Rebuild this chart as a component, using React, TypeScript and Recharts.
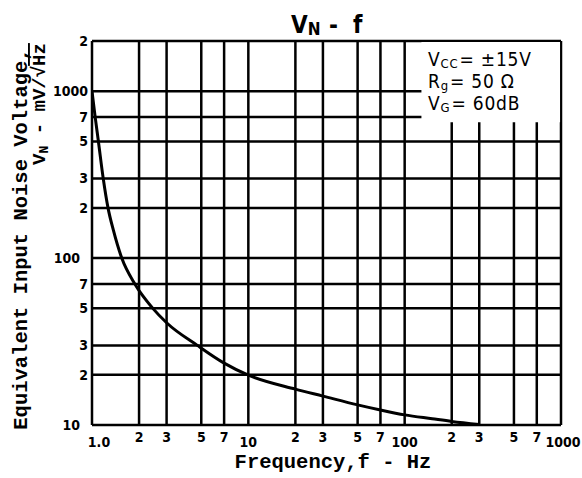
import React from "react";
import { LineChart, Line, XAxis, YAxis, CartesianGrid, ReferenceArea } from "recharts";

// noise curve (Hz, nV/√Hz)
const freqs = [1.0, 1.048, 1.099, 1.18, 1.266, 1.37, 1.55, 1.88, 2.45, 3, 4.72, 7, 10, 20, 30, 50, 70, 100, 150, 200, 300];
const noise = [1000, 700, 500, 300, 200, 147, 100, 70, 50, 41, 30, 23.5, 19.9, 16.4, 14.9, 13.2, 12.3, 11.5, 10.9, 10.5, 10.07];

const xTicks = [1, 2, 3, 5, 7, 10, 20, 30, 50, 70, 100, 200, 300, 500, 700, 1000];
const xTickText = ["1.0", "2", "3", "5", "7", "10", "2", "3", "5", "7", "100", "2", "3", "5", "7", "1000"];
const yTicks = [10, 20, 30, 50, 70, 100, 200, 300, 500, 700, 1000, 2000];
const yTickText = ["10", "2", "3", "5", "7", "100", "2", "3", "5", "7", "1000", "2"];

const data = freqs.map((f, i) => ({ f, v: noise[i] }));

const NARROW = "'Liberation Sans Narrow', 'DejaVu Sans Condensed', 'Liberation Sans', sans-serif";
const MONO = "'Liberation Mono', 'DejaVu Sans Mono', monospace";

const XTick = (props: any) => {
  const { x, y, payload } = props;
  const i = xTicks.indexOf(payload.value);
  const label = xTickText[i] ?? "";
  const decade = label.length > 1;
  let dx = 0;
  if (label === "1.0") dx = 7;
  if (label === "1000") dx = 2;
  return (
    <text x={x + dx} y={y + (decade ? 14 : 9)} textAnchor="middle" fontFamily={NARROW} fontWeight={700} fontSize={14} fill="#000">
      {label}
    </text>
  );
};

const YTick = (props: any) => {
  const { x, y, payload } = props;
  const i = yTicks.indexOf(payload.value);
  const label = yTickText[i] ?? "";
  const shift = label === "10" || label === "100" ? -4 : 4;
  return (
    <text x={x + shift} y={y + 5} textAnchor="end" fontFamily={NARROW} fontWeight={700} fontSize={14} fill="#000">
      {label}
    </text>
  );
};

export default function App() {
  return (
    <div style={{ position: "absolute", left: 0, top: 0, width: 582, height: 478, background: "#fff" }}>
      <LineChart width={582} height={478} data={data} margin={{ top: 41, right: 21, bottom: 0, left: 0 }}>
        <CartesianGrid stroke="#000" strokeWidth={2.5} />
        <XAxis
          dataKey="f"
          type="number"
          scale="log"
          domain={[1, 1000]}
          ticks={xTicks}
          allowDataOverflow
          axisLine={false}
          tickLine={false}
          height={53}
          tick={<XTick />}
          interval={0}
        />
        <YAxis
          type="number"
          scale="log"
          domain={[10, 2000]}
          ticks={yTicks}
          allowDataOverflow
          axisLine={false}
          tickLine={false}
          width={92}
          tick={<YTick />}
          interval={0}
        />
        {/* blank box behind the conditions text */}
        <ReferenceArea x1={128} x2={986} y1={652} y2={1970} fill="#fff" fillOpacity={1} stroke="none" />
        <Line dataKey="v" type="monotone" stroke="#000" strokeWidth={3} dot={false} isAnimationActive={false} />
      </LineChart>
      <svg width={582} height={478} style={{ position: "absolute", left: 0, top: 0, pointerEvents: "none" }}>
        <text y={33} fontFamily={NARROW} fontWeight={700} fontSize={24}>
          <tspan x={291}>V</tspan>
          <tspan fontSize={17} dy={2}>N</tspan>
          <tspan x={329} dy={-2}>-</tspan>
          <tspan x={353}>f</tspan>
        </text>
        <g fontFamily={NARROW} fontSize={19} letterSpacing={0.8}>
          <text x={428} y={66}>
            V<tspan fontSize={13} dy={2}>CC</tspan>
            <tspan dy={-2} dx={1}>= ±15V</tspan>
          </text>
          <text x={428} y={88}>
            R<tspan fontSize={13} dy={2}>g</tspan>
            <tspan dy={-2} dx={1}>= 50 Ω</tspan>
          </text>
          <text x={428} y={110}>
            V<tspan fontSize={13} dy={2}>G</tspan>
            <tspan dy={-2} dx={1}>= 60dB</tspan>
          </text>
        </g>
        <text x={333} y={468} textAnchor="middle" fontFamily={MONO} fontWeight={700} fontSize={20.5}>
          Frequency,f - Hz
        </text>
        <text
          transform="translate(27,239) rotate(-90)"
          textAnchor="middle"
          fontFamily={MONO}
          fontWeight={700}
          fontSize={20.5}
        >
          Equivalent Input Noise Voltage,
        </text>
        <text
          transform="translate(45,104) rotate(-90)"
          textAnchor="middle"
          fontFamily={MONO}
          fontWeight={700}
          fontSize={19}
        >
          V<tspan fontSize={13} dy={3}>N</tspan>
          <tspan dy={-3}> - mV/√</tspan>
          <tspan textDecoration="overline">Hz</tspan>
        </text>
      </svg>
    </div>
  );
}
